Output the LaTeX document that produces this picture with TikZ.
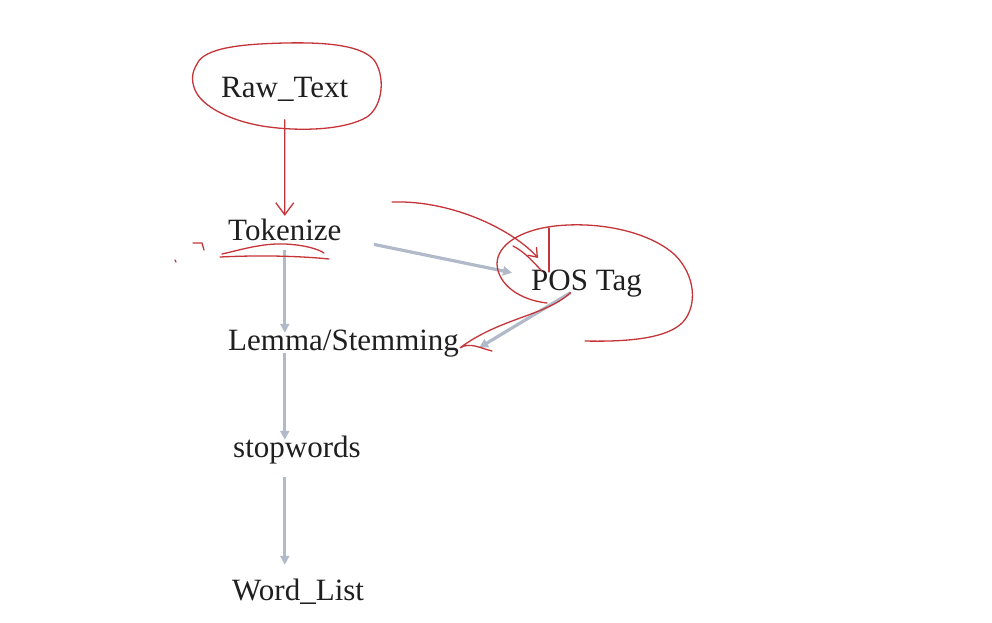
\documentclass[tikz,border=0pt]{standalone}
\usepackage{fontspec}
\setmainfont{Liberation Serif}
\usetikzlibrary{arrows.meta,positioning,calc}
\definecolor{flowgray}{RGB}{176,186,201}
\definecolor{penred}{RGB}{196,52,56}

\begin{document}
\begin{tikzpicture}[x=1pt, y=-1pt, >=Latex,
  lbl/.style={inner sep=0pt, text height=0.7em, text depth=0.25em, font=\fontsize{31}{36}\selectfont, text=black!88},
  flow/.style={draw=flowgray, line width=3.2pt, shorten <=4pt, shorten >=10pt, -{Triangle[length=9pt,width=9pt]}},
  pen/.style={draw=penred, line width=1.3pt, line cap=round, line join=round},
  barb/.style={-{Straight Barb[length=12pt,width=18pt]}}]
\useasboundingbox (0,0) rectangle (992,622);
\node[lbl, anchor=base west] (raw) at (221,97) {Raw\_Text};
\node[lbl, anchor=base west] (tok) at (228,240) {Tokenize};
\node[lbl, anchor=base west] (pos) at (531,290) {POS Tag};
\node[lbl, anchor=base west] (lem) at (228,350) {Lemma/Stemming};
\node[lbl, anchor=base west] (stop) at (233,457) {stopwords};
\node[lbl, anchor=base west] (wl) at (232,600) {Word\_List};
\coordinate (tail) at (392,202);
\draw[flow, shorten <=7pt] (tok.south) -- (tok.south |- lem.north);
\draw[flow, shorten <=0pt] (tok.south |- lem.south) -- (tok.south |- stop.north);
\draw[flow, shorten <=17pt, shorten >=28pt] (tok.south |- stop.south) -- (tok.south |- wl.north);
\draw[flow, shorten <=33pt, shorten >=0pt] (tok.east) -- ([shift={(-19,-15)}]pos.west);
\draw[flow, shorten <=0pt, shorten >=0pt] ([xshift=-16pt]pos.south) -- ([xshift=20pt]lem.east);
\draw[pen] (197,64) .. controls (204,48) and (240,44) .. (285,43) .. controls (330,42) and (362,46) .. (374,60)
  .. controls (385,75) and (384,105) .. (367,117) .. controls (345,130) and (300,132) .. (262,126)
  .. controls (228,120) and (202,106) .. (195,90) .. controls (191,80) and (192,72) .. (197,64);
\draw[pen, barb, shorten <=20pt, shorten >=17pt] (raw.south) -- (tok.south |- tok.north);
\draw[pen] (193,243) -- (202,243) -- (204,250);
\draw[pen] (175,260) -- (176,262);
\draw[pen] (222,254) .. controls (240,250) and (262,243) .. (285,244) .. controls (305,245) and (318,249) .. (324,253);
\draw[pen] (220,257) .. controls (260,255) and (300,256) .. (329,259);
\draw[pen, -{Straight Barb[length=8pt,width=12pt]}] (tail) .. controls (455,200) and (515,232) .. (538,258);
\draw[pen] (549,228) -- (549,272);
\draw[pen] (513,246) .. controls (525,252) and (533,262) .. (542,271);
\draw[pen] (547,303) .. controls (520,300) and (498,285) .. (497,264) .. controls (497,245) and (520,230) .. (555,226)
  .. controls (600,221) and (650,232) .. (675,255) .. controls (695,275) and (698,305) .. (683,322)
  .. controls (668,338) and (630,342) .. (585,341);
\draw[pen] ([xshift=-16pt]pos.south) .. controls (545,316) and (500,318) .. ([xshift=1pt]lem.east)
  .. controls (470,342) and (480,348) .. (492,351);
\end{tikzpicture}
\end{document}
